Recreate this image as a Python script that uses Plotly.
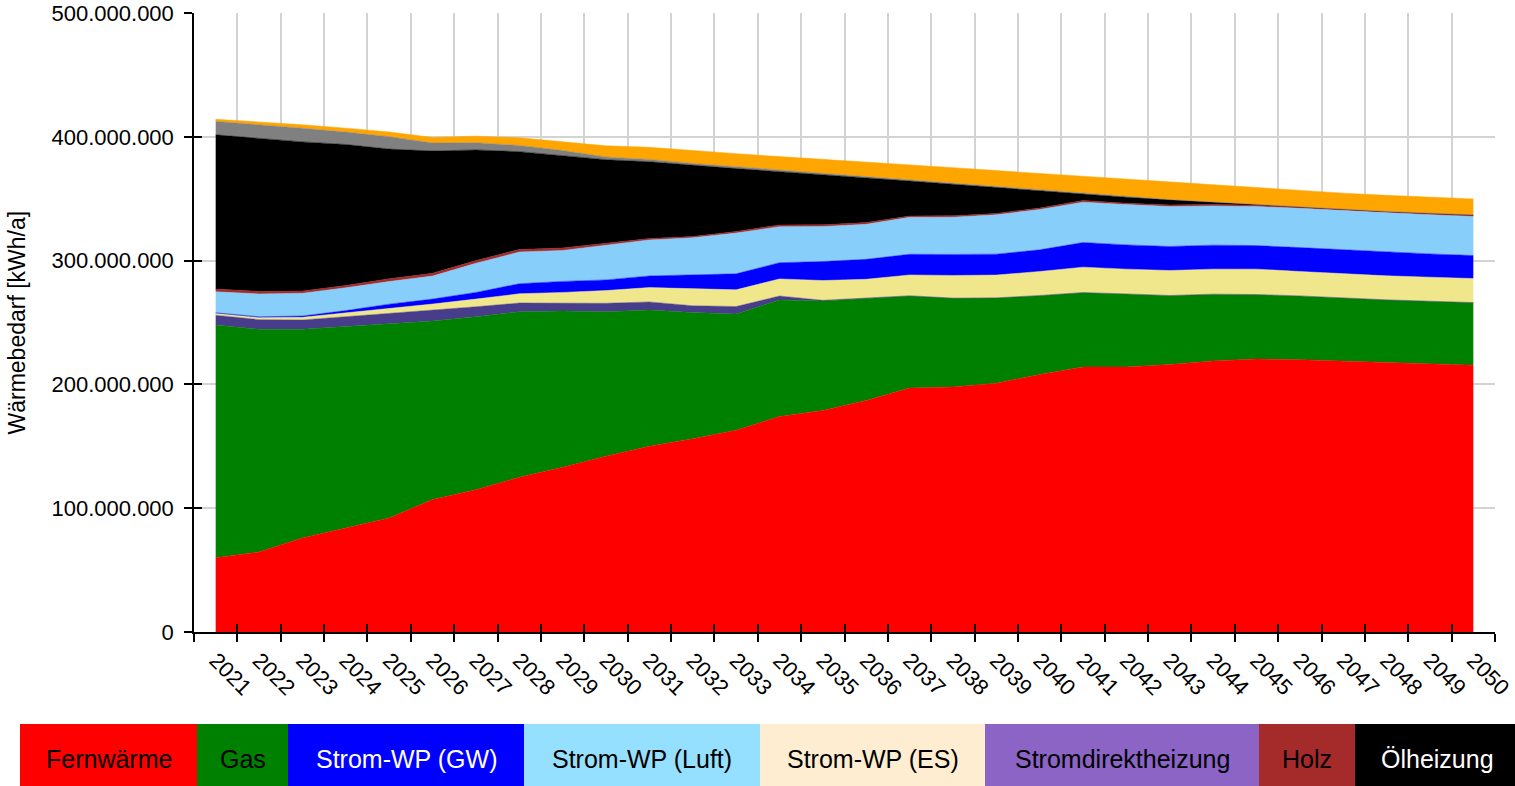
import plotly.graph_objects as go

# Heat demand per energy carrier, values in million kWh/a
years = [str(y) for y in range(2021, 2051)]

fernwaerme = [60, 64.6, 76, 84, 92, 107, 115, 125, 133, 142, 150, 156, 163, 174, 179,
              187, 197, 198, 201, 208, 214, 214, 216, 219, 220.5, 220, 219, 218, 216.5, 215.5]
gas = [188, 179.9, 168.5, 162.6, 156.8, 144.2, 139.7, 133.7, 126.3, 116.7, 110.1, 102, 93.9, 94.2, 88.4,
       82.6, 74.4, 71.6, 68.8, 63.7, 60.1, 59, 55.7, 53.8, 52, 51.4, 50.6, 50.2, 50.6, 50.5]
stromdirekt = [7.8, 7.8, 7.5, 8.0, 8.5, 8.5, 8.0, 7.0, 6.5, 6.8, 6.5, 5.5, 6.0, 3.2, 0.5,
               0.3, 0.2, 0.1, 0.1, 0.1, 0.1, 0.1, 0.1, 0.1, 0.1, 0.1, 0.1, 0.1, 0.1, 0.1]
wp_es = [1.6, 1.8, 2.2, 3.0, 4.3, 5.2, 6.2, 7.5, 8.5, 10.3, 11.6, 13.5, 13.5, 13.8, 16.0,
         15.0, 16.8, 18.3, 18.4, 19.4, 20.5, 20.0, 20.2, 20.2, 20.5, 19.7, 19.6, 19.4, 19.4, 19.4]
wp_gw = [0.4, 0.5, 1.0, 2.0, 3.2, 4.0, 5.4, 8.1, 8.9, 8.6, 9.4, 11.6, 12.9, 13.1, 15.3,
         16.1, 16.7, 17.0, 16.9, 17.5, 19.9, 19.6, 19.4, 19.4, 19.0, 19.3, 19.4, 19.4, 18.8, 18.6]
wp_luft = [17.0, 18.5, 18.4, 18.4, 18.3, 18.6, 23.5, 25.6, 25.0, 28.3, 29.1, 29.9, 32.9, 29.1, 28.3,
           28.3, 29.9, 30.1, 31.8, 32.6, 32.6, 32.6, 32.3, 31.7, 31.6, 31.7, 31.6, 31.4, 31.7, 31.5]
holz = [2.2, 2.0, 1.8, 1.9, 2.2, 2.2, 2.2, 2.1, 2.0, 1.3, 1.1, 1.0, 1.3, 1.4, 1.4,
        1.4, 1.0, 1.1, 1.1, 1.1, 1.3, 1.1, 1.3, 1.1, 1.1, 1.1, 1.0, 1.1, 1.1, 1.3]
oel = [124.6, 123.7, 120.5, 113.9, 104.8, 98.8, 89.4, 79.0, 74.7, 67.5, 62.0, 57.4, 50.8, 43.0, 40.6,
       36.1, 28.3, 25.5, 20.9, 14.1, 5.3, 4.8, 4.1, 1.8, 0.5, 0, 0, 0, 0, 0]
kohle = [10.8, 11.0, 11.0, 10.0, 10.0, 6.5, 5.8, 5.0, 4.0, 2.2, 1.9, 1.6, 1.5, 1.3, 1.2,
         1.0, 0.8, 0.6, 0.5, 0.4, 0.3, 0.3, 0.2, 0.2, 0.1, 0.1, 0.1, 0.1, 0.1, 0.1]
sonstige = [1.8, 2.3, 2.8, 3.2, 3.8, 4.5, 5.3, 6.2, 7.2, 9.0, 9.8, 10.3, 10.6, 10.9, 11.2,
            11.8, 12.3, 12.8, 13.2, 13.5, 13.8, 13.9, 13.8, 13.6, 13.4, 13.2, 13.1, 13.0, 12.9, 12.8]

MIO = 1e6

# stacking order bottom -> top: (name, values, area colour)
layers = [
    ("Fernwärme", fernwaerme, "#ff0000"),
    ("Gas", gas, "#008000"),
    ("Stromdirektheizung", stromdirekt, "#483d8b"),
    ("Strom-WP (ES)", wp_es, "#f0e68c"),
    ("Strom-WP (GW)", wp_gw, "#0000ff"),
    ("Strom-WP (Luft)", wp_luft, "#87cefa"),
    ("Holz", holz, "#a52a2a"),
    ("Ölheizung", oel, "#000000"),
    ("Kohle", kohle, "#808080"),
    ("Sonstige", sonstige, "#ffa500"),
]

# legend row below the chart: (label, box colour, text colour, left px, right px)
legend_items = [
    ("Fernwärme", "#ff0000", "black", 20, 197),
    ("Gas", "#008000", "black", 197, 288),
    ("Strom-WP (GW)", "#0000ff", "white", 288, 524),
    ("Strom-WP (Luft)", "#96e0ff", "black", 524, 760),
    ("Strom-WP (ES)", "#ffedd2", "black", 760, 985),
    ("Stromdirektheizung", "#8b64c6", "black", 985, 1259),
    ("Holz", "#a52a2a", "black", 1259, 1355),
    ("Ölheizung", "#000000", "white", 1355, 1520),
]

W, H = 1515, 786
L_M, R_M, T_M, B_M = 194, 20, 13, 154
PW, PH = W - L_M - R_M, H - T_M - B_M


def px2x(px):
    return (px - L_M) / PW


def py2y(py):
    return (H - B_M - py) / PH


fig = go.Figure()
for name, vals, color in layers:
    fig.add_trace(go.Scatter(
        x=years, y=[v * MIO for v in vals], name=name,
        mode="lines", stackgroup="one",
        line=dict(width=0.5, color=color), fillcolor=color,
        showlegend=False
    ))

# dummy trace so the overlay axes (inner half of the crossing ticks) get drawn
fig.add_trace(go.Scatter(x=[None], y=[None], xaxis="x2", yaxis="y2",
                         showlegend=False, hoverinfo="skip"))

font = "Liberation Sans, Arial, sans-serif"
grid = "#d3d3d3"

fig.update_layout(
    width=W, height=H,
    margin=dict(l=L_M, r=R_M, t=T_M, b=B_M),
    paper_bgcolor="white", plot_bgcolor="white",
    separators=",.",
    font=dict(family=font, size=22, color="black"),
    xaxis=dict(
        type="category", range=[-0.5, 29.5], tickson="boundaries",
        ticks="outside", ticklen=8, tickwidth=1.5, tickcolor="black",
        showline=True, linecolor="black", linewidth=1.5,
        showgrid=True, gridcolor=grid, gridwidth=1.5,
        tickangle=45, tickfont=dict(size=22, color="black"),
        ticklabelstandoff=5, automargin=False,
    ),
    yaxis=dict(
        range=[0, 500 * MIO], tick0=0, dtick=100 * MIO, tickformat=",d",
        ticks="outside", ticklen=8, tickwidth=1.5, tickcolor="black",
        showline=True, linecolor="black", linewidth=1.5,
        showgrid=True, gridcolor=grid, gridwidth=1.5, zeroline=False,
        tickfont=dict(size=22, color="black"), ticklabelstandoff=6,
        automargin=False,
    ),
    xaxis2=dict(
        overlaying="x", anchor="y2", side="bottom", range=[-0.5, 29.5],
        tickvals=[i - 0.5 for i in range(31)], ticks="inside", ticklen=8,
        tickwidth=1.5, tickcolor="black", showticklabels=False,
        showgrid=False, zeroline=False, showline=False, automargin=False,
    ),
    yaxis2=dict(
        overlaying="y", anchor="x2", side="left", range=[0, 500 * MIO],
        tick0=0, dtick=100 * MIO, ticks="inside", ticklen=8,
        tickwidth=1.5, tickcolor="black", showticklabels=False,
        showgrid=False, zeroline=False, showline=False, automargin=False,
    ),
)

fig.add_annotation(
    text="Wärmebedarf [kWh/a]", xref="paper", yref="paper",
    x=px2x(16), y=0.5, textangle=-90, showarrow=False,
    xanchor="center", yanchor="middle",
    font=dict(family=font, size=23, color="black"),
)

for label, box, txt, x0, x1 in legend_items:
    fig.add_shape(type="rect", xref="paper", yref="paper",
                  x0=px2x(x0), x1=px2x(x1), y0=py2y(724), y1=py2y(792),
                  fillcolor=box, line=dict(width=0), layer="above")
    fig.add_annotation(text=label, xref="paper", yref="paper",
                       x=px2x((x0 + x1) / 2), y=py2y(759), showarrow=False,
                       xanchor="center", yanchor="middle",
                       font=dict(family=font, size=25, color=txt))

# drop the browser's default body margin so the figure sits at the page corner
fig.write_html("out.html", config={"displayModeBar": False},
               post_script="document.body.style.margin='0';document.body.style.overflow='hidden';")
